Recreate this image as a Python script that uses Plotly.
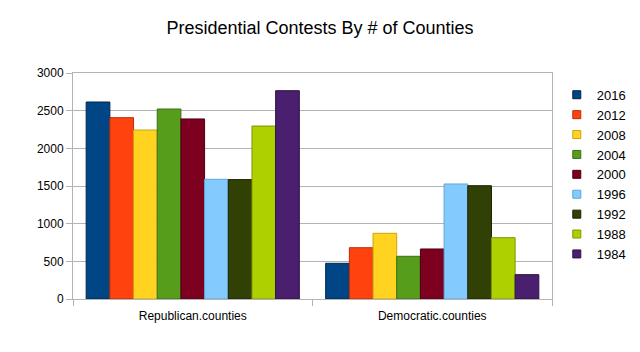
import plotly.graph_objects as go

categories = ["Republican.counties", "Democratic.counties"]
years = ["2016", "2012", "2008", "2004", "2000", "1996", "1992", "1988", "1984"]
republican = [2615, 2407, 2243, 2522, 2390, 1589, 1585, 2296, 2765]
democratic = [474, 681, 872, 567, 664, 1527, 1504, 814, 323]
colors = ["#004586", "#ff420e", "#ffd320", "#579d1c", "#7e0021",
          "#83caff", "#314004", "#aecf00", "#4b1f6f"]
outlines = ["#00264a", "#b82e09", "#c9a310", "#3c6e12", "#4a0013",
            "#5ea5d9", "#1a2202", "#7f9800", "#2c1142"]

fig = go.Figure()
for i, y in enumerate(years):
    fig.add_trace(go.Bar(
        x=categories, y=[republican[i], democratic[i]], name=y,
        marker=dict(color=colors[i], line=dict(color=outlines[i], width=1)),
        showlegend=False,
    ))
for i, y in enumerate(years):
    fig.add_trace(go.Scatter(
        x=[None], y=[None], mode="markers", name=y,
        marker=dict(symbol="square", size=8, color=colors[i],
                    line=dict(color=outlines[i], width=1)),
    ))

fig.update_layout(
    width=640, height=352,
    margin=dict(l=73, r=88, t=73, b=53, autoexpand=False),
    paper_bgcolor="white", plot_bgcolor="white",
    barmode="group", bargap=0.11, bargroupgap=0,
    font=dict(family="Liberation Sans, Arial, sans-serif", size=12, color="#000"),
    title=dict(text="Presidential Contests By # of Counties", x=0.5, xanchor="center",
               y=1 - 28 / 352, yanchor="middle",
               font=dict(size=18, color="#000")),
    showlegend=True,
    legend=dict(x=1.01, xanchor="left", y=0.97, yanchor="top",
                font=dict(size=13), tracegroupgap=0, itemwidth=30,
                bgcolor="rgba(0,0,0,0)", maxheight=1),
    xaxis=dict(showline=True, linecolor="#b3b3b3", mirror=True,
               ticks="outside", tickson="boundaries", ticklen=6, tickcolor="#b3b3b3",
               tickfont=dict(size=12), showgrid=False, ticklabelstandoff=6),
    yaxis=dict(range=[0, 3000], dtick=500, showline=True, linecolor="#b3b3b3",
               mirror=True, gridcolor="#b3b3b3", ticks="outside", ticklen=6,
               tickcolor="#b3b3b3", tickfont=dict(size=12), zeroline=False),
)

fig.write_html("out.html")
